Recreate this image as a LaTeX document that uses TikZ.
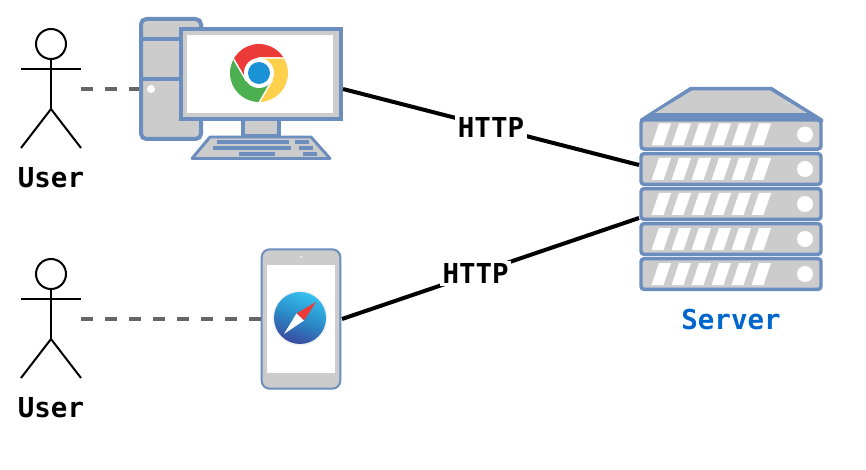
\documentclass[tikz,border=0pt]{standalone}
\usepackage{fontspec}
\setmonofont{DejaVu Sans Mono}
\usepackage{xcolor}
\definecolor{iconline}{HTML}{6C8EBF}
\definecolor{iconfill}{HTML}{CCCCCC}
\definecolor{dashline}{HTML}{666666}
\definecolor{serverlbl}{HTML}{0066CC}
\definecolor{chromered}{HTML}{EC3A39}
\definecolor{chromegreen}{HTML}{4CAF50}
\definecolor{chromeyellow}{HTML}{FFD04C}
\definecolor{chromeblue}{HTML}{1A92D6}
\definecolor{safarilight}{HTML}{35C0F0}
\definecolor{safarimid}{HTML}{2A8CC8}
\definecolor{safaridark}{HTML}{3A4A9F}
\usetikzlibrary{calc}
\tikzset{
  icon/.style     = {draw=iconline,fill=iconfill,line width=3pt,inner sep=0pt},
  unitbox/.style  = {icon,line width=2.6pt,rounded corners=2.5pt,
                     minimum width=135pt,minimum height=23.2pt},
  keyrow/.style   = {fill=iconline},
  stick/.style    = {draw=black,line width=1.5pt},
  link/.style     = {draw=black,line width=3pt},
  dashlink/.style = {draw=dashline,line width=3pt,dash pattern=on 9pt off 9pt},
  lbl/.style      = {font=\ttfamily\bfseries\fontsize{20.6}{24}\selectfont,inner sep=1pt},
  httplbl/.style  = {lbl,fill=white,text=black,inner sep=2pt},
}
\begin{document}
\begin{tikzpicture}[x=0.75pt,y=-0.75pt]
    \useasboundingbox (0,0) rectangle (866,470);
    % Two users
    \foreach \name/\y in {usera/0,userb/230}{
      \node[stick,circle,minimum size=22.5pt,inner sep=0pt] (\name) at (51,44+\y) {};
      \coordinate (\name hip) at (51,109+\y);
      \coordinate (\name port) at (81,89+\y);
      \draw[stick] (\name.south) -- (\name hip);
      \draw[stick] (21,69+\y) -- (81,69+\y);
      \draw[stick] (21,148+\y) -- (\name hip) -- (81,148+\y);
      \node[lbl] (\name lbl) at (51,178+\y) {User};
    }
    % Desktop
    \node[icon,rounded corners=4pt,minimum width=45pt,minimum height=90pt] (tower) at (171,79) {};
    \draw[draw=iconline,line width=3pt] (tower.west |- 0,39) -- (tower.east |- 0,39);
    \draw[draw=iconline,line width=3pt] (tower.west |- 0,79) -- (tower.east |- 0,79);
    \node[fill=white,circle,minimum size=6pt,inner sep=0pt] (towerdot) at (151,89) {};
    \node[icon,minimum width=27pt,minimum height=14pt] (stand) at (261,127) {};
    \node[icon,minimum width=120pt,minimum height=67.5pt] (monitor) at (261,74) {};
    \node[fill=white,minimum width=110pt,minimum height=58.5pt,inner sep=0pt] (screen) at (260,74) {};
    \draw[icon,line width=2.2pt,line join=round] (210,137) -- (311,137) -- (330,158.5) -- (192,158.5) -- cycle;
    \foreach \xa/\xb/\yy in {217/289/140,295/309/140,213/291/146,299/313/146,239/275/152,303/317/152}{
      \fill[keyrow] (\xa,\yy) rectangle (\xb,\yy+4);
    }
    % Chrome logo
    \coordinate (chrome) at (259,73);
    \begin{scope}
      \clip (chrome) circle (29);
      \foreach \a/\c in {0/chromered,120/chromegreen,240/chromeyellow}{
        \begin{scope}[shift={(chrome)},rotate=\a]
          \fill[\c,draw=white,line width=1pt] (0,-15) -- (40,-15) -- (40,-50) -- (-33,-50) -- (-33,-27) -- (-13,7.5) -- cycle;
        \end{scope}
      }
    \end{scope}
    \fill[white] (chrome) circle (15);
    \fill[chromeblue] (chrome) circle (11);
    % Phone
    \node[icon,line width=1.5pt,rounded corners=6pt,minimum width=59pt,minimum height=104.5pt] (phone) at (301,319) {};
    \node[fill=white,minimum width=51pt,minimum height=81pt,inner sep=0pt] (phonescreen) at (301,318.5) {};
    \node[fill=white,circle,minimum size=1.5pt,inner sep=0pt] (phonedot) at (301,257) {};
    % Safari logo
    \coordinate (safari) at (300,318);
    \fill[black!6] (safari) circle (27.5);
    \shade[bottom color=safaridark,top color=safarilight,middle color=safarimid,shading angle=-20] (safari) circle (26);
    \fill[chromered] (316,302) -- (296.5,313.5) -- (304,320.5) -- cycle;
    \fill[white] (284,334) -- (296.5,313.5) -- (304,320.5) -- cycle;
    % Server
    \fill[iconline] (690,87) -- (772,87) -- (823,119) -- (823,122) -- (640,122) -- (640,119) -- cycle;
    \fill[iconfill] (692,90.5) -- (770,90.5) -- (807,113) -- (655,113) -- cycle;
    \foreach \u/\y in {1/134.5,2/169,3/204,4/239,5/274}{
      \ifnum\u=1
        \node[unitbox,minimum height=22pt] (unit\u) at (731,\y) {};
      \else
        \node[unitbox] (unit\u) at (731,\y) {};
      \fi
      \foreach \i in {0,...,5}{
        \pgfmathsetmacro{\sx}{651.5+20*\i}
        \fill[white] (\sx,\y+11) -- (\sx+12,\y+11) -- (\sx+19.5,\y-11) -- (\sx+7.5,\y-11) -- cycle;
      }
      \node[fill=white,circle,minimum size=12pt,inner sep=0pt] (unitdot\u) at (805,\y) {};
    }
    \node[lbl,text=serverlbl] (serverlbl) at (731,319) {Server};
    % Connectors
    \coordinate (monitorport) at (343,89);
    \coordinate (phoneport) at (342,319);
    \coordinate (serverporta) at (639,165);
    \coordinate (serverportb) at (639,218);
    \draw[dashlink] (useraport) -- (tower.west |- useraport);
    \draw[dashlink] (userbport) -- (phone.west |- userbport);
    \draw[link] (monitorport) -- node[httplbl,pos=.5] (httpa) {HTTP} (serverporta);
    \draw[link] (phoneport) -- node[httplbl,pos=.45] (httpb) {HTTP} (serverportb);
\end{tikzpicture}
\end{document}
